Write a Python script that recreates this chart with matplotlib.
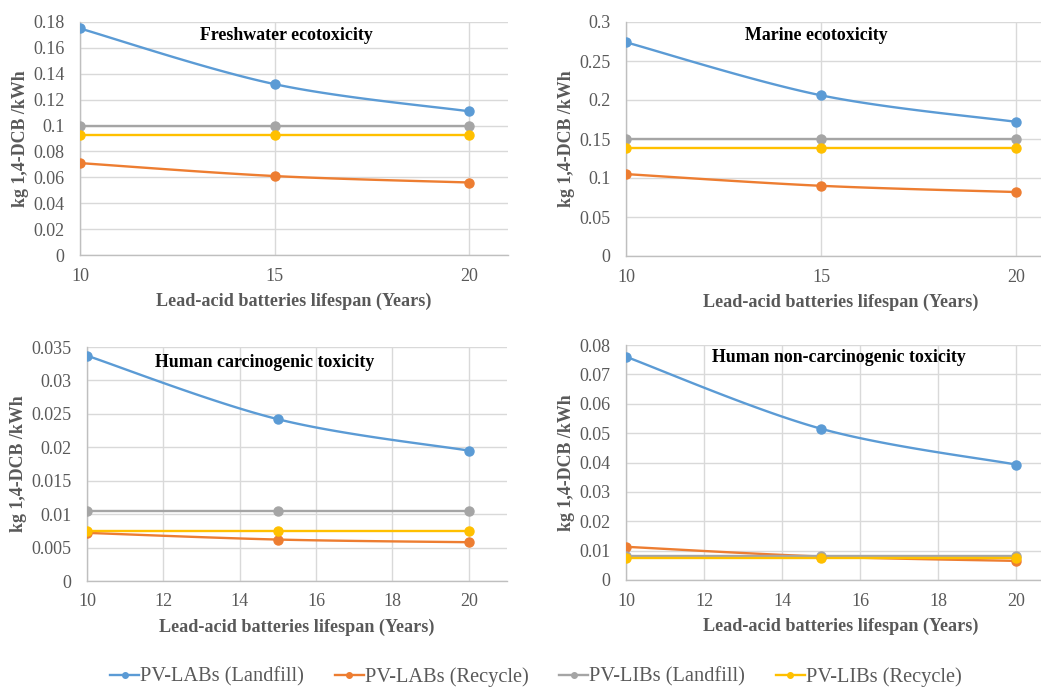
import numpy as np
import matplotlib
matplotlib.use("Agg")
import matplotlib.pyplot as plt
from matplotlib.lines import Line2D
from matplotlib.ticker import FuncFormatter, MultipleLocator

plt.rcParams['font.family'] = ['Liberation Serif', 'DejaVu Serif']

lifespan = [10, 15, 20]
series_names = ["PV-LABs (Landfill)", "PV-LABs (Recycle)", "PV-LIBs (Landfill)", "PV-LIBs (Recycle)"]
colors = ["#5B9BD5", "#ED7D31", "#A5A5A5", "#FFC000"]

fresh_lab_landfill = [0.175, 0.132, 0.111]
fresh_lab_recycle = [0.071, 0.061, 0.056]
fresh_lib_landfill = [0.100, 0.100, 0.100]
fresh_lib_recycle = [0.093, 0.093, 0.093]

marine_lab_landfill = [0.274, 0.206, 0.172]
marine_lab_recycle = [0.105, 0.090, 0.082]
marine_lib_landfill = [0.150, 0.150, 0.150]
marine_lib_recycle = [0.139, 0.139, 0.139]

hc_lab_landfill = [0.0337, 0.0242, 0.0195]
hc_lab_recycle = [0.0072, 0.0062, 0.0058]
hc_lib_landfill = [0.0104, 0.0104, 0.0104]
hc_lib_recycle = [0.0075, 0.0075, 0.0075]

hnc_lab_landfill = [0.0760, 0.0515, 0.0393]
hnc_lab_recycle = [0.0113, 0.0080, 0.0065]
hnc_lib_landfill = [0.0082, 0.0082, 0.0082]
hnc_lib_recycle = [0.0075, 0.0075, 0.0075]

titles = ["Freshwater ecotoxicity", "Marine ecotoxicity",
          "Human carcinogenic toxicity", "Human non-carcinogenic toxicity"]
panel_series = [
    [fresh_lab_landfill, fresh_lab_recycle, fresh_lib_landfill, fresh_lib_recycle],
    [marine_lab_landfill, marine_lab_recycle, marine_lib_landfill, marine_lib_recycle],
    [hc_lab_landfill, hc_lab_recycle, hc_lib_landfill, hc_lib_recycle],
    [hnc_lab_landfill, hnc_lab_recycle, hnc_lib_landfill, hnc_lib_recycle],
]
ymax = [0.18, 0.3, 0.035, 0.08]
ystep = [0.02, 0.05, 0.005, 0.01]
xstep = [5, 5, 2, 2]

W, H = 1041, 692
fig = plt.figure(figsize=(W / 100, H / 100), dpi=100)

def px_rect(l, r, t, b):
    return [l / W, 1 - b / H, (r - l) / W, (b - t) / H]

rects = [px_rect(80, 508, 22, 255), px_rect(626, 1055, 22, 256),
         px_rect(87, 507, 347, 581), px_rect(626, 1055, 345, 580)]
title_pos = [(286, 35), (816, 36), (265, 363), (839, 357)]

def smooth(x, y, n=40):
    x = np.asarray(x, float); y = np.asarray(y, float)
    P = np.column_stack([x, y])
    Pe = np.vstack([P[0], P, P[-1]])
    out = []
    for i in range(len(P) - 1):
        p0, p1, p2, p3 = Pe[i], Pe[i + 1], Pe[i + 2], Pe[i + 3]
        c1 = p1 + (p2 - p0) / 6
        c2 = p2 - (p3 - p1) / 6
        t = np.linspace(0, 1, n)[:, None]
        seg = ((1 - t) ** 3) * p1 + 3 * ((1 - t) ** 2) * t * c1 + 3 * (1 - t) * t ** 2 * c2 + t ** 3 * p2
        out.append(seg if i == 0 else seg[1:])
    s = np.vstack(out)
    return s[:, 0], s[:, 1]

fmt = FuncFormatter(lambda v, p: f"{round(v, 6):g}")
tick_color = "#595959"

for k in range(4):
    ax = fig.add_axes(rects[k])
    for sv, c in zip(panel_series[k], colors):
        sx, sy = smooth(lifespan, sv)
        ax.plot(sx, sy, color=c, lw=1.7, zorder=3, solid_capstyle='round')
        ax.plot(lifespan, sv, 'o', color=c, ms=6.5, zorder=4)
    ax.set_xlim(10, 21)
    ax.set_ylim(0, ymax[k])
    ax.xaxis.set_major_locator(MultipleLocator(xstep[k]))
    ax.yaxis.set_major_locator(MultipleLocator(ystep[k]))
    ax.yaxis.set_major_formatter(fmt)
    ax.xaxis.set_major_formatter(fmt)
    ax.grid(True, color="#d9d9d9", lw=1.0, zorder=0)
    ax.set_axisbelow(True)
    for sp in ['top', 'right']:
        ax.spines[sp].set_visible(False)
    for sp in ['left', 'bottom']:
        ax.spines[sp].set_color("#bfbfbf")
        ax.spines[sp].set_linewidth(1.0)
    ax.tick_params(length=0, labelsize=13, colors=tick_color)
    ax.tick_params(axis='y', pad=11)
    ax.tick_params(axis='x', pad=9)
    ax.set_xlabel("Lead-acid batteries lifespan (Years)", fontsize=13.1, fontweight='bold',
                  color=tick_color, labelpad=6)
    ax.set_ylabel("kg 1,4-DCB /kWh", fontsize=12.9, fontweight='bold', color=tick_color, labelpad=3)
    tx, ty = title_pos[k]
    fig.text(tx / W, 1 - ty / H, titles[k], fontsize=12.9, fontweight='bold',
             color='black', ha='center', va='center')

handles = [Line2D([], [], color=c, lw=1.7, marker='o', ms=4) for c in colors]
leg = fig.legend(handles, series_names, loc='center', bbox_to_anchor=(536 / W, 1 - 677 / H),
                 ncol=4, frameon=False, fontsize=14.7, handlelength=1.42, handletextpad=0.05,
                 columnspacing=1.5)
for t in leg.get_texts():
    t.set_color(tick_color)

fig.savefig("out.png", dpi=100, facecolor='white')
